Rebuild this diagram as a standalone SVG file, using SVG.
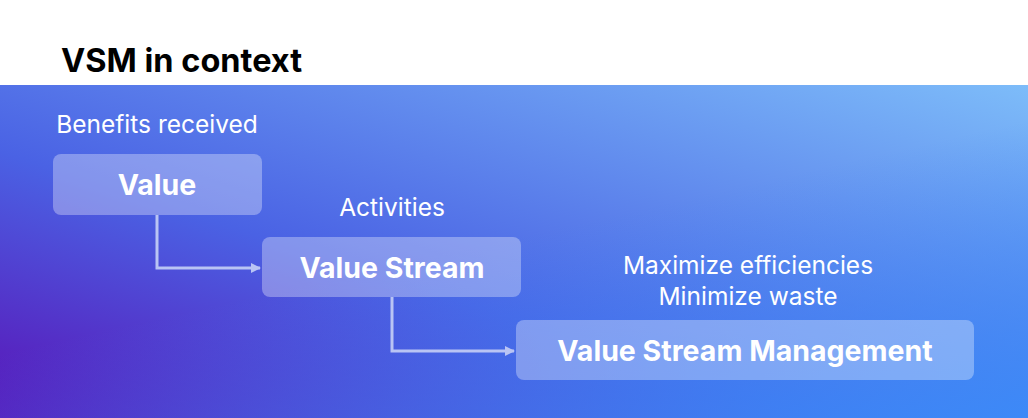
<svg xmlns="http://www.w3.org/2000/svg" width="1028" height="418" viewBox="0 0 1028 418">
<defs>
<linearGradient id="bg" x1="0" y1="1" x2="1" y2="0" gradientUnits="objectBoundingBox">
<stop offset="0" stop-color="#5a12b6"/>
<stop offset="0.4" stop-color="#4a62e4"/>
<stop offset="1" stop-color="#7dbcf9"/>
</linearGradient>
<linearGradient id="bg2" x1="0.3" y1="0" x2="1" y2="1">
<stop offset="0.4" stop-color="#3a8cf9" stop-opacity="0"/>
<stop offset="1" stop-color="#3a8cf9" stop-opacity="0.9"/>
</linearGradient>
<marker id="ah" markerWidth="10" markerHeight="10" refX="9" refY="5" orient="auto" markerUnits="userSpaceOnUse">
<path d="M0,0 L10,5 L0,10 z" fill="#b9c4f4"/>
</marker>
<style>
.box{fill:#ffffff;fill-opacity:0.32}
.lbl{font-family:"Inter","Liberation Sans",sans-serif;font-weight:700;font-size:28.5px;fill:#fff;text-anchor:middle}
.cap{font-family:"Inter","Liberation Sans",sans-serif;font-size:24.5px;fill:#fff;text-anchor:middle}
.con{fill:none;stroke:#b9c4f4;stroke-width:3}
</style>
</defs>
<rect width="1028" height="418" fill="#fff"/>
<text x="61" y="72" font-family="Inter,'Liberation Sans',sans-serif" font-weight="700" font-size="32.5" fill="#000">VSM in context</text>
<rect x="0" y="85" width="1028" height="333" fill="url(#bg)"/>
<rect x="0" y="85" width="1028" height="333" fill="url(#bg2)"/>
<text class="cap" x="157" y="133">Benefits received</text>
<text class="cap" x="392" y="216">Activities</text>
<text class="cap" x="748" y="274">Maximize efficiencies</text>
<text class="cap" x="748" y="305">Minimize waste</text>
<g id="connectors">
<path class="con" d="M157,215 V268 H260" marker-end="url(#ah)"/>
<path class="con" d="M392,297 V351 H514" marker-end="url(#ah)"/>
</g>
<g id="value"><rect class="box" x="53" y="154" width="209" height="61" rx="8"/><text class="lbl" x="157" y="195">Value</text></g>
<g id="value-stream"><rect class="box" x="262" y="237" width="259" height="60" rx="8"/><text class="lbl" x="392" y="278">Value Stream</text></g>
<g id="vsm"><rect class="box" x="516" y="320" width="458" height="60" rx="8"/><text class="lbl" x="745" y="361">Value Stream Management</text></g>
</svg>
